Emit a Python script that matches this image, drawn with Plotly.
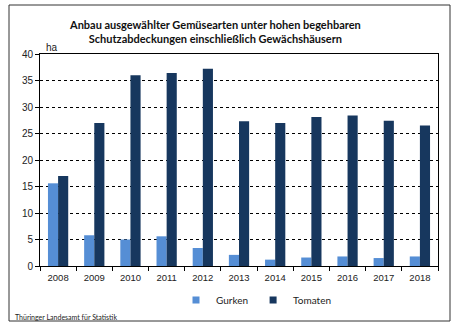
import plotly.graph_objects as go

years = ["2008", "2009", "2010", "2011", "2012", "2013", "2014", "2015", "2016", "2017", "2018"]
gurken = [15.6, 5.8, 5.0, 5.6, 3.4, 2.1, 1.2, 1.6, 1.8, 1.5, 1.8]
tomaten = [17.0, 27.0, 36.0, 36.4, 37.2, 27.3, 27.0, 28.1, 28.4, 27.4, 26.5]

series_names = ["Gurken", "Tomaten"]
series_colors = ["#558ED5", "#17375E"]

title_lines = ["Anbau ausgewählter Gemüsearten unter hohen begehbaren",
               "Schutzabdeckungen einschließlich Gewächshäusern"]
unit = "ha"
source = "Thüringer Landesamt für Statistik"

W, H = 460, 333
L, R, T, B = 40, 22, 54, 67
pw, ph = W - L - R, H - T - B


def px(x):
    return (x - L) / pw


def py(y):
    return (H - B - y) / ph


fig = go.Figure()
for name, vals, col in zip(series_names, [gurken, tomaten], series_colors):
    fig.add_trace(go.Bar(name=name, x=years, y=vals, marker=dict(color=col, line=dict(width=0)),
                         showlegend=False, legendgroup=name))
for name, col in zip(series_names, series_colors):
    fig.add_trace(go.Scatter(name=name, x=[None], y=[None], mode="markers",
                             marker=dict(symbol="square", size=7, color=col),
                             showlegend=True, legendgroup=name))

fig.update_layout(
    width=W, height=H,
    margin=dict(l=L, r=R, t=T, b=B),
    paper_bgcolor="white", plot_bgcolor="white",
    barmode="group", bargap=0.44, bargroupgap=0,
    showlegend=True,
    legend=dict(orientation="h", x=px(176), xanchor="left", y=py(300), yanchor="middle",
                font=dict(family="Lato", size=10, color="#222"), itemwidth=30,
                bgcolor="rgba(0,0,0,0)", tracegroupgap=0),
    font=dict(family="Liberation Sans", size=10, color="#222"),
)
fig.update_xaxes(type="category", showline=True, linecolor="black", linewidth=1, mirror=True,
                 ticks="outside", tickson="boundaries", ticklen=4, tickcolor="black",
                 ticklabelstandoff=3,
                 showgrid=False, tickfont=dict(family="Liberation Sans", size=9.5, color="#222"))
fig.update_yaxes(range=[0, 40], dtick=5, showline=True, linecolor="black", linewidth=1, mirror=True,
                 ticks="outside", ticklen=4, tickcolor="black",
                 showgrid=True, gridcolor="black", gridwidth=1, griddash="dot",
                 zeroline=False, tickfont=dict(family="Liberation Sans", size=10, color="#222"))

# outer frame
fig.add_shape(type="rect", xref="paper", yref="paper",
              x0=px(9), x1=px(450), y0=py(321), y1=py(5),
              line=dict(color="#333", width=1), fillcolor="rgba(0,0,0,0)", layer="below")

fig.add_annotation(text="<b>" + "<br>".join(title_lines) + "</b>", xref="paper", yref="paper",
                   x=px(215), y=py(31), xanchor="center", yanchor="middle", showarrow=False,
                   font=dict(family="Lato", size=11, color="#111"), align="center")
fig.add_annotation(text=unit, xref="paper", yref="paper", x=px(44), y=py(47),
                   xanchor="left", yanchor="middle", showarrow=False,
                   font=dict(family="Liberation Sans", size=10, color="#222"))
fig.add_annotation(text=source, xref="paper", yref="paper", x=px(13), y=py(317),
                   xanchor="left", yanchor="middle", showarrow=False,
                   font=dict(family="Lato", size=7, color="#222"))

fig.write_html("out.html")
